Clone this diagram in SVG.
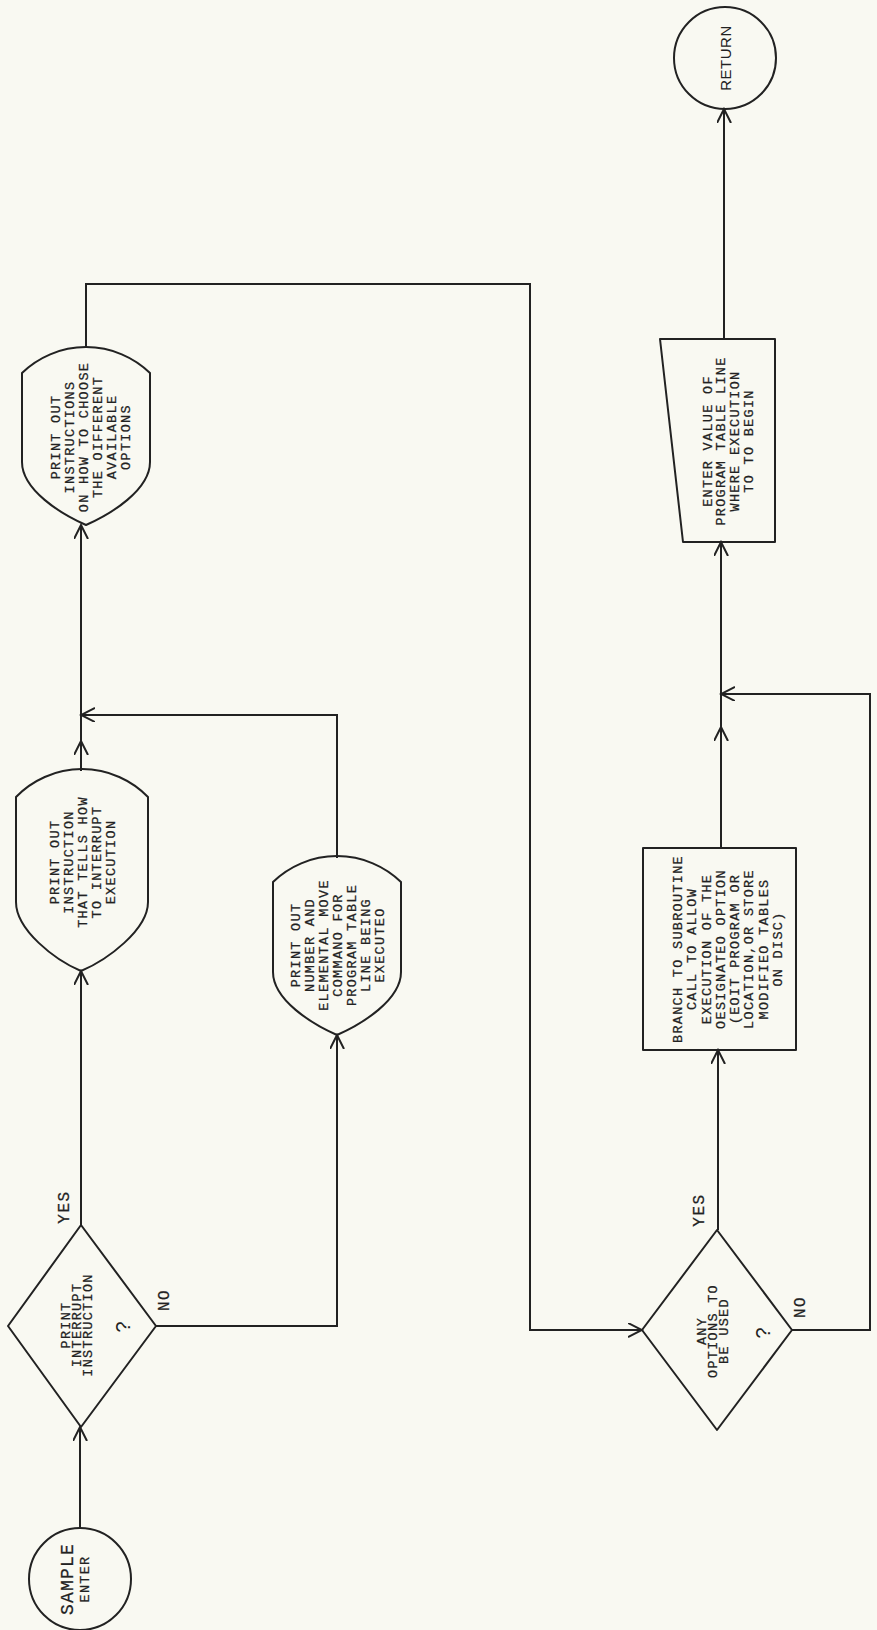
<svg xmlns="http://www.w3.org/2000/svg" width="877" height="1630" viewBox="0 0 877 1630">
<defs>
<style>
.s{fill:none;stroke:#222;stroke-width:2;stroke-linejoin:round}
.c{fill:none;stroke:#222;stroke-width:2}
.t{font-family:"Liberation Mono","DejaVu Sans Mono",monospace;font-size:13.5px;letter-spacing:1.3px;fill:#222;stroke:#222;stroke-width:0.25;text-anchor:middle}
.l{font-family:"Liberation Mono","DejaVu Sans Mono",monospace;font-size:16px;letter-spacing:1.5px;fill:#222;stroke:#222;stroke-width:0.25;text-anchor:middle}
.q{font-family:"Liberation Sans",sans-serif;font-size:20px;fill:#222;text-anchor:middle}
</style>
<marker id="ah" markerWidth="16" markerHeight="16" refX="14" refY="7" orient="auto" markerUnits="userSpaceOnUse">
<path d="M0,0 L14,7 L0,14" fill="none" stroke="#222" stroke-width="2"/>
</marker>
</defs>
<rect x="0" y="0" width="877" height="1630" fill="#f9f9f2"/>

<g id="connectors">
<path class="c" d="M80,1528 V1427" marker-end="url(#ah)"/>
<path class="c" d="M81,1225 V971" marker-end="url(#ah)"/>
<path class="c" d="M156,1326 H337 V1035" marker-end="url(#ah)"/>
<path class="c" d="M337,858 V715 H81" marker-end="url(#ah)"/>
<path class="c" d="M81,771 V741" marker-end="url(#ah)"/>
<path class="c" d="M81,741 V525" marker-end="url(#ah)"/>
<path class="c" d="M86,347 V284 H530 V1330 H642" marker-end="url(#ah)"/>
<path class="c" d="M718,1230 V1050" marker-end="url(#ah)"/>
<path class="c" d="M792,1330 H870 V694 H721" marker-end="url(#ah)"/>
<path class="c" d="M721,848 V727" marker-end="url(#ah)"/>
<path class="c" d="M721,727 V542" marker-end="url(#ah)"/>
<path class="c" d="M724,339 V109" marker-end="url(#ah)"/>
</g>

<g id="sample-enter">
<circle class="s" cx="80" cy="1579" r="51"/>
<g transform="translate(80,1579) rotate(-90)">
<text x="0" y="-7" style="font-family:'Liberation Mono','DejaVu Sans Mono',monospace;font-size:18px;letter-spacing:1.2px;fill:#222;stroke:#222;stroke-width:0.25;text-anchor:middle">SAMPLE</text>
<text class="t" x="0" y="9">ENTER</text>
</g>
</g>

<g id="d1">
<path class="s" d="M81,1225 L156,1326 L81,1427 L8,1326 Z"/>
<g transform="translate(81,1325) rotate(-90)">
<text class="t" x="0" y="-11">PRINT</text>
<text class="t" x="0" y="0">INTERRUPT</text>
<text class="t" x="0" y="11">INSTRUCTION</text>
<text class="q" x="-2" y="49">?</text>
</g>
<text class="l" transform="translate(63,1207) rotate(-90)" y="5.5">YES</text>
<text class="l" transform="translate(163,1300) rotate(-90)" y="5.5">NO</text>
</g>

<g id="s1">
<path class="s" d="M16,797 A92,92 0 0 1 148,797 V902 C148,930 107,960 81,971 C55,960 16,930 16,902 Z"/>
<g transform="translate(82,862) rotate(-90)">
<text class="t" x="0" y="-23">PRINT OUT</text>
<text class="t" x="0" y="-9">INSTRUCTION</text>
<text class="t" x="0" y="5">THAT TELLS HOW</text>
<text class="t" x="0" y="19">TO INTERRUPT</text>
<text class="t" x="0" y="33">EXECUTION</text>
</g>
</g>

<g id="s2">
<path class="s" d="M273,882 A92,92 0 0 1 401,882 V972 C401,1000 362,1024 337,1035 C312,1024 273,1000 273,972 Z"/>
<g transform="translate(337,945) rotate(-90)">
<text class="t" x="0" y="-37">PRINT OUT</text>
<text class="t" x="0" y="-23">NUMBER AND</text>
<text class="t" x="0" y="-9">ELEMENTAL MOVE</text>
<text class="t" x="0" y="5">COMMANO FOR</text>
<text class="t" x="0" y="19">PROGRAM TABLE</text>
<text class="t" x="0" y="33">LINE BEING</text>
<text class="t" x="0" y="47">EXECUTEO</text>
</g>
</g>

<g id="s3">
<path class="s" d="M22,373 A92,92 0 0 1 150,373 V462 C150,490 111,514 86,525 C61,514 22,490 22,462 Z"/>
<g transform="translate(90,437) rotate(-90)">
<text class="t" x="0" y="-30">PRINT OUT</text>
<text class="t" x="0" y="-16">INSTRUCTIONS</text>
<text class="t" x="0" y="-2">ON HOW TO CHOOSE</text>
<text class="t" x="0" y="12">THE OIFFERENT</text>
<text class="t" x="0" y="26">AVAILABLE</text>
<text class="t" x="0" y="40">OPTIONS</text>
</g>
</g>

<g id="d2">
<path class="s" d="M717,1230 L792,1330 L717,1430 L642,1330 Z"/>
<g transform="translate(717,1331) rotate(-90)">
<text class="t" x="0" y="-11">ANY</text>
<text class="t" x="0" y="0">OPTIONS TO</text>
<text class="t" x="0" y="11">BE USED</text>
<text class="q" x="-2" y="53">?</text>
</g>
<text class="l" transform="translate(698,1210) rotate(-90)" y="5.5">YES</text>
<text class="l" transform="translate(799,1307) rotate(-90)" y="5.5">NO</text>
</g>

<g id="box">
<rect class="s" x="643" y="848" width="153" height="202"/>
<g transform="translate(727,949) rotate(-90)">
<text class="t" x="0" y="-45">BRANCH TO SUBROUTINE</text>
<text class="t" x="0" y="-30.7">CALL TO ALLOW</text>
<text class="t" x="0" y="-16.4">EXECUTION OF THE</text>
<text class="t" x="0" y="-2.1">OESIGNATEO OPTION</text>
<text class="t" x="0" y="12.1">(EOIT PROGRAM OR</text>
<text class="t" x="0" y="26.4">LOCATION,OR STORE</text>
<text class="t" x="0" y="40.7">MODIFIEO TABLES</text>
<text class="t" x="0" y="55">ON DISC)</text>
</g>
</g>

<g id="input">
<path class="s" d="M660,339 H775 V542 H683 Z"/>
<g transform="translate(727,441) rotate(-90)">
<text class="t" x="0" y="-15.5">ENTER VALUE OF</text>
<text class="t" x="0" y="-2">PROGRAM TABLE LINE</text>
<text class="t" x="0" y="12">WHERE EXECUTION</text>
<text class="t" x="0" y="25.5">TO TO BEGIN</text>
</g>
</g>

<g id="return">
<circle class="s" cx="725" cy="58" r="51"/>
<text transform="translate(725,58) rotate(-90)" x="0" y="5.5" style="font-family:'Liberation Sans',sans-serif;font-size:15px;letter-spacing:0.5px;fill:#222;text-anchor:middle">RETURN</text>
</g>
</svg>
